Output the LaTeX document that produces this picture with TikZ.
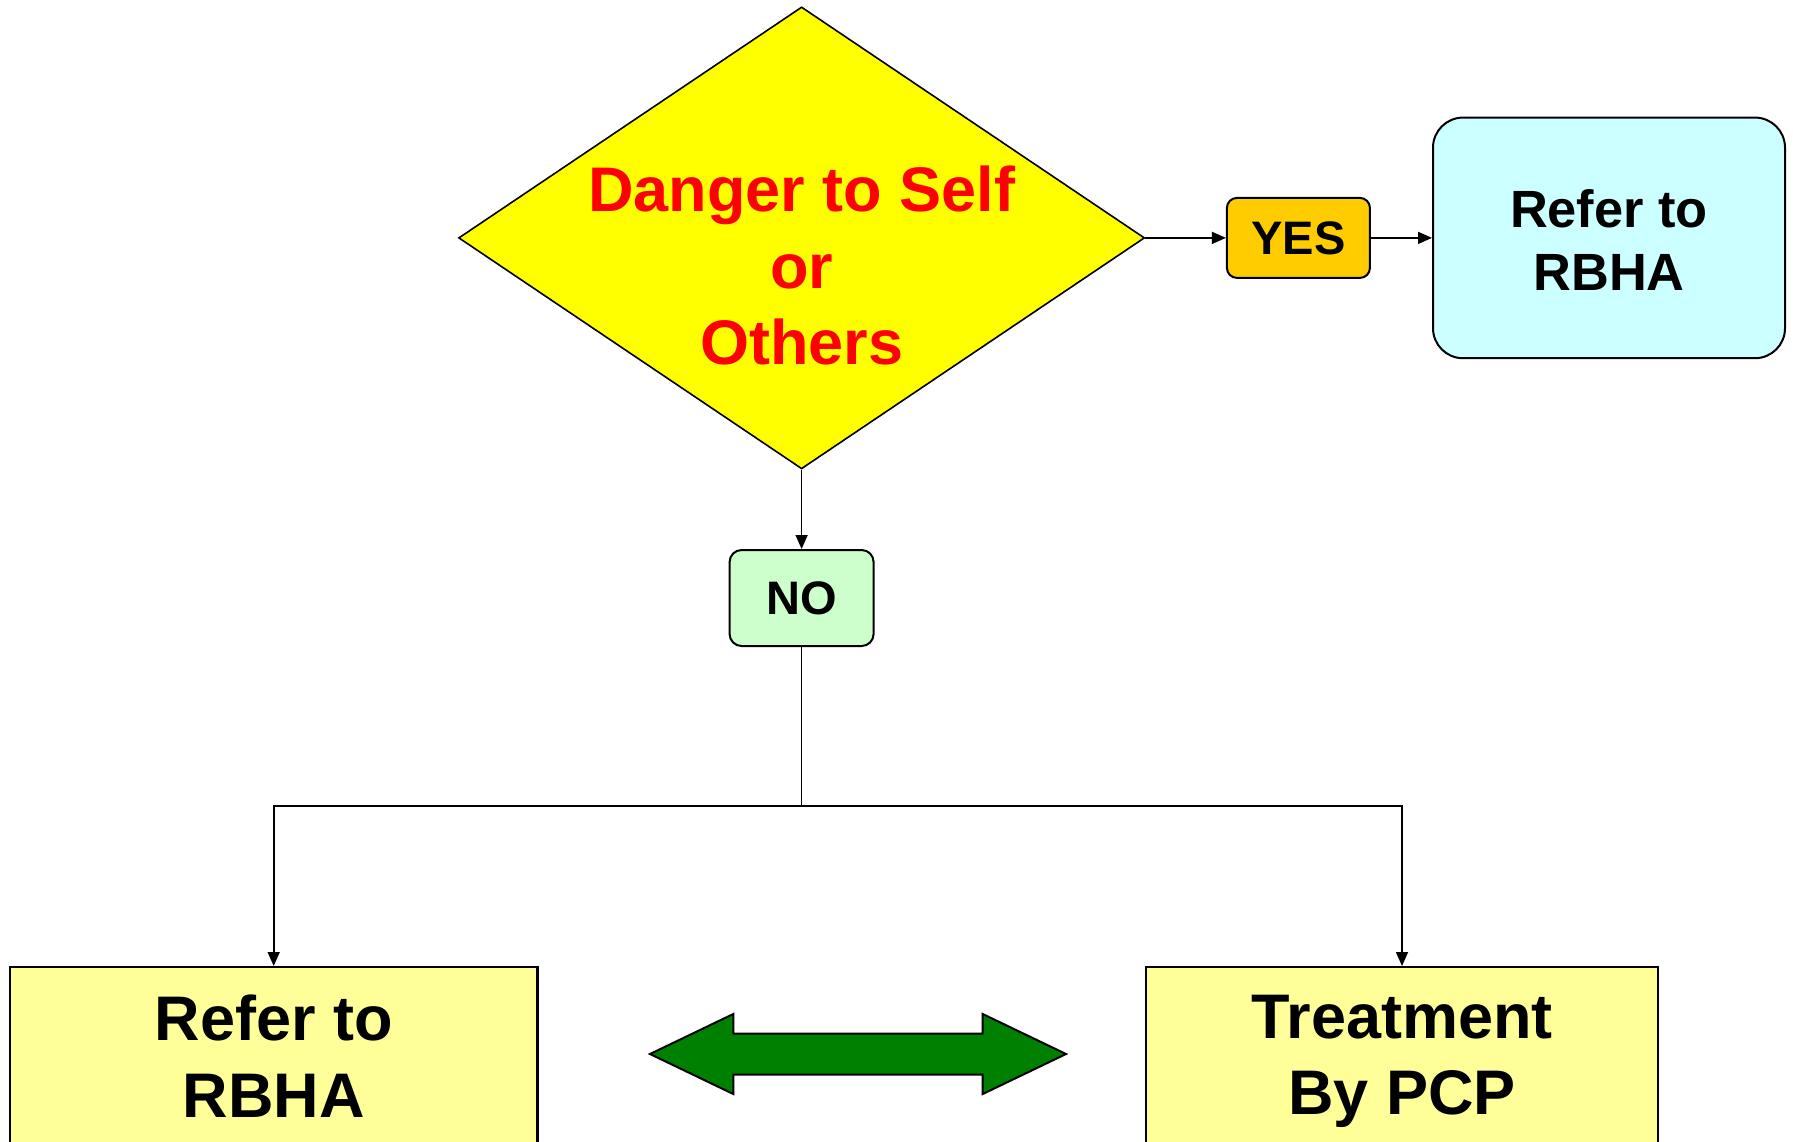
\documentclass[tikz,border=0pt]{standalone}
\usepackage{fontspec}
\setmainfont{Liberation Sans}
\usetikzlibrary{shapes.geometric,arrows.meta}
\definecolor{dangeryellow}{HTML}{FFFF00}
\definecolor{yesorange}{HTML}{FFCC00}
\definecolor{rbhacyan}{HTML}{CCFFFF}
\definecolor{nogreen}{HTML}{CCFFCC}
\definecolor{boxyellow}{HTML}{FFFF99}
\definecolor{linkgreen}{HTML}{008000}
\tikzset{
    decision/.style={diamond, draw, fill=dangeryellow, line width=0.8pt, inner sep=0pt,
        minimum width=343pt, minimum height=231pt},
    answer/.style={draw, rounded corners=5pt, line width=1pt, inner sep=0pt,
        font=\fontsize{23.5}{27}\selectfont\bfseries},
    outcome/.style={draw, fill=boxyellow, line width=1.2pt, inner sep=0pt, anchor=north,
        minimum height=117pt},
    bigtext/.style={inner sep=0pt, anchor=north, align=center,
        font=\fontsize{31.5}{38.3}\selectfont\bfseries},
}
\begin{document}
\begin{tikzpicture}[x=0.5pt, y=-0.5pt, >={Triangle[length=7pt,width=6pt]}, line width=0.8pt]
    \clip (0,0) rectangle (1793,1141);

    \node[decision] (danger) at (801.6,237.9) {};
    \node[bigtext, text=red] (dangertxt) at (801.6,165) {Danger to Self\\or\\Others};

    \node[answer, fill=yesorange, minimum width=71.5pt, minimum height=40pt] (yes) at (1298.4,237.9) {YES};
    \node[draw, fill=rbhacyan, rounded corners=15pt, line width=1pt, minimum width=176pt, minimum height=120.3pt] (rbha) at (1609,237.9) {};
    \node[inner sep=0pt, anchor=north, align=center, font=\fontsize{26.2}{31.5}\selectfont\bfseries] (rbhatxt) at (1609,188.8) {Refer to\\RBHA};

    \node[answer, fill=nogreen, rounded corners=6pt, minimum width=72pt, minimum height=48pt] (no) at (801.6,598) {NO};
    \coordinate (split) at (801.6,806);

    \node[outcome, minimum width=263.75pt] (refl) at (273.7,966) {};
    \node[bigtext] (refltxt) at (273.7,994) {Refer to\\RBHA};
    \node[outcome, minimum width=256pt] (treat) at (1402,966) {};
    \node[bigtext] (treattxt) at (1402,994) {Treatment\\By PCP};

    \draw[->] (danger.east) to (yes.west);
    \draw[->] (yes.east) to (rbha.west);
    \draw[->] (danger.south) to (no.north);
    \draw (no.south) -- (split);
    \draw[->] (split) -| (refl.north);
    \draw[->] (split) -| (treat.north);

    % double arrow between the two outcomes
    \draw[fill=linkgreen, line width=1pt] (650,1054) -- (733.3,1014) -- (733.3,1033.5) -- (982.7,1033.5)
        -- (982.7,1014) -- (1066,1054) -- (982.7,1094) -- (982.7,1074.5) -- (733.3,1074.5)
        -- (733.3,1094) -- cycle;
\end{tikzpicture}
\end{document}
